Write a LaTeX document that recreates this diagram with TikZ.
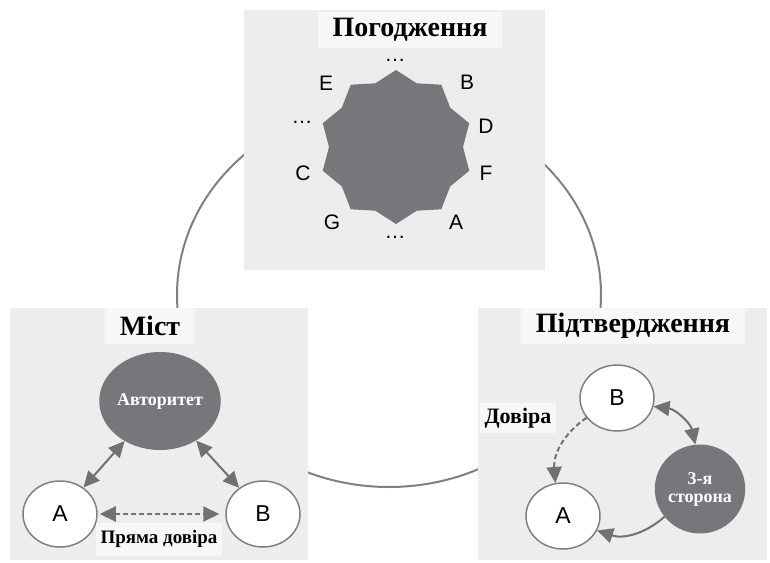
\documentclass[tikz,border=0pt]{standalone}
\usepackage{fontspec}
\setmainfont{Liberation Serif}
\setsansfont{Liberation Sans}
\usetikzlibrary{shapes.geometric,arrows.meta,positioning}
\definecolor{Panel}{HTML}{EDEDED}
\definecolor{Label}{HTML}{F7F7F7}
\definecolor{Slate}{HTML}{76777B}
\definecolor{Rim}{HTML}{808080}
\definecolor{Shaft}{HTML}{717171}

\tikzset{
  panel/.style={fill=Panel,draw=none},
  heading/.style={fill=Label,inner xsep=15pt,minimum height=36pt,font=\bfseries\fontsize{28}{30}\selectfont},
  caption/.style={fill=Label,inner xsep=5pt,minimum height=33pt,font=\bfseries\fontsize{19}{21}\selectfont},
  peer/.style={ellipse,draw=Rim,line width=1.5pt,fill=white,minimum width=74pt,minimum height=66pt,font=\sffamily\fontsize{23}{26}\selectfont},
  hub/.style={ellipse,fill=Slate,text=white,inner sep=0pt,align=center,font=\bfseries\fontsize{18}{16}\selectfont},
  tag/.style={font=\sffamily\fontsize{21}{24}\selectfont},
  link/.style={draw=Shaft,line width=2pt,-{Triangle[length=16pt,width=15pt]}},
  twoway/.style={link,{Triangle[length=16pt,width=15pt]}-{Triangle[length=16pt,width=15pt]}},
  trust/.style={dash pattern=on 5pt off 3pt}
}

\begin{document}
\begin{tikzpicture}[x=1pt,y=-1pt]
  \useasboundingbox (0,0) rectangle (770,562);
  % ring behind the three panels
  \draw[Rim,line width=2pt] (389,295) ellipse [x radius=212pt,y radius=192pt];

  % consensus
  \fill[panel] (244,10) rectangle (545,270);
  \node[heading] (agreeT) at (410,30) {Погодження};
  \coordinate (ring) at (396,147);
  \fill[Slate] (463,147) \foreach \k in {0,...,9}{
      -- ({396+77*cos(36*\k+18)},{147+77*sin(36*\k+18)})
      -- ({396+67*cos(36*\k+36)},{147+67*sin(36*\k+36)})} -- cycle;
  \foreach \t/\x/\y [count=\i] in {\ldots/395/60,E/326/83,B/467/82,\ldots/302/122,D/486/126,
                                   C/303/173,F/486/173,G/332/222,A/456/222,\ldots/395/237}
    \node[tag] (mark\i) at (\x,\y) {\t};

  % bridge
  \fill[panel] (10,308) rectangle (308,560);
  \node[heading] (bridgeT) at (150,326) {Міст};
  \node[hub,minimum width=110pt,minimum height=98pt] (auth) at (160,401) {Авторитет};
  \node[peer] (brA) at (60,514) {A};
  \node[peer] (brB) at (263,514) {B};
  \draw[twoway] (auth) -- (brA);
  \draw[twoway] (auth) -- (brB);
  \draw[twoway,trust,shorten <=2pt,shorten >=6pt] (brA) -- (brB);
  \node[caption] (directT) at (159,539) {Пряма довіра};

  % attestation
  \fill[panel] (478,308) rectangle (767,560);
  \node[heading] (verifyT) at (633,326) {Підтвердження};
  \node[peer] (vfB) at (617,398) {B};
  \node[peer] (vfA) at (563,516) {A};
  \node[hub,minimum size=89pt,font=\bfseries\fontsize{18}{18}\selectfont] (third) at (700,489) {3-я\\сторона};
  \draw[twoway] (vfB.-13) to[bend left=35] (third.96);
  \draw[link,trust] (vfB.213) to[bend right=30] (vfA.103);
  \draw[link] (third.218) to[bend left=30] (vfA.-23);
  \node[caption,font=\bfseries\fontsize{22}{24}\selectfont,minimum height=30pt] (trustT) at (518,418) {Довіра};
\end{tikzpicture}
\end{document}
